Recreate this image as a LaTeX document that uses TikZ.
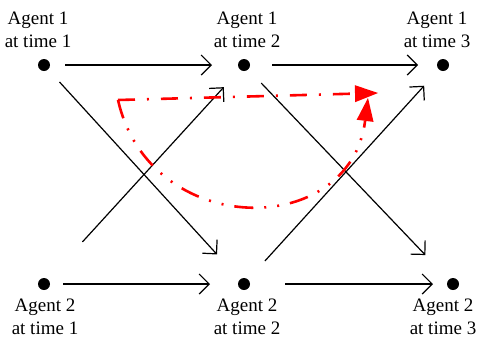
\documentclass[tikz,border=0pt]{standalone}
\usepackage{fontspec}
\setmainfont{Liberation Serif}
\usetikzlibrary{arrows.meta, positioning}

\begin{document}
\begin{tikzpicture}[
    x=1pt, y=-1pt,
    agent/.style={circle, fill=black, inner sep=0pt, minimum size=12pt},
    agentlabel/.style={align=center, inner sep=0pt, font=\fontsize{19}{23}\selectfont},
    arrow/.style={line width=1.2pt, -{Straight Barb[length=10pt, width=20pt]}},
    plan/.style={red, line width=2.6pt, -{Triangle[length=23pt, width=17pt, line width=0pt, fill=red]}},
    dashdot/.style={dash pattern=on 17pt off 12pt on 2pt off 12pt},
    dashdotdot/.style={dash pattern=on 19pt off 11pt on 2pt off 11pt on 2pt off 11pt}
]
\useasboundingbox (0,0) rectangle (479,341);

% Nodes
\node[agent] (a1t1) at (44,65) {};
\node[agent] (a1t2) at (244,65) {};
\node[agent] (a1t3) at (443,65) {};
\node[agent] (a2t1) at (44,284) {};
\node[agent] (a2t2) at (244,284) {};
\node[agent] (a2t3) at (453,284) {};

\node[agentlabel, above=11pt of a1t1, xshift=-6pt] (l1t1) {Agent 1\\at time 1};
\node[agentlabel, above=11pt of a1t2, xshift=3pt] (l1t2) {Agent 1\\at time 2};
\node[agentlabel, above=11pt of a1t3, xshift=-6pt] (l1t3) {Agent 1\\at time 3};
\node[agentlabel, below=9pt of a2t1, xshift=1pt] (l2t1) {Agent 2\\at time 1};
\node[agentlabel, below=9pt of a2t2, xshift=3pt] (l2t2) {Agent 2\\at time 2};
\node[agentlabel, below=9pt of a2t3, xshift=-10pt] (l2t3) {Agent 2\\at time 3};

% Arrows
\draw[arrow, shorten <=21pt, shorten >=32pt] (a1t1.center) -- (a1t2.center);
\draw[arrow, shorten <=28pt, shorten >=25pt] (a1t2.center) -- (a1t3.center);
\draw[arrow, shorten <=19pt, shorten >=34pt] (a2t1.center) -- (a2t2.center);
\draw[arrow, shorten <=41pt, shorten >=20pt] (a2t2.center) -- (a2t3.center);
\draw[arrow, shorten <=23pt, shorten >=40pt] (a1t1.center) -- (a2t2.center);
\draw[arrow, shorten <=57pt, shorten >=30pt] (a2t1.center) -- (a1t2.center);
\draw[arrow, shorten <=25pt, shorten >=40pt] (a1t2.center) -- (a2t3.center);
\draw[arrow, shorten <=31pt, shorten >=28pt] (a2t2.center) -- (a1t3.center);

% Plan
\coordinate (fork) at (118,100);
\coordinate (goal) at (378,93);
\coordinate (goalcurve) at (368,98);
\draw[plan, dashdot] (fork) -- (goal);
\draw[plan, dashdotdot] (fork) .. controls (150,240) and (350,240) .. (goalcurve);

\end{tikzpicture}
\end{document}
